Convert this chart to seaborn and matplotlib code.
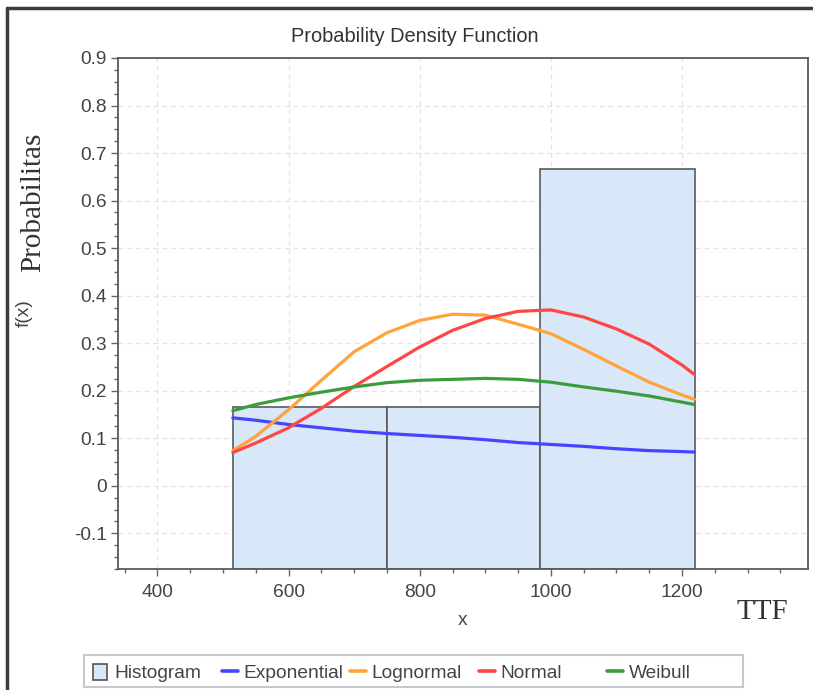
import matplotlib
matplotlib.use("Agg")
import matplotlib.pyplot as plt
import seaborn as sns
import pandas as pd
from matplotlib.ticker import MultipleLocator, FuncFormatter
from matplotlib.patches import Patch, Rectangle
from matplotlib.lines import Line2D

# ---------------- data ----------------
bin_edges = [515, 750, 984, 1219]
hist_values = [0.1667, 0.1667, 0.6667]

x_pts = [515, 550, 600, 650, 700, 750, 800, 850, 900, 950, 1000, 1050, 1100, 1150, 1200, 1219]
exponential = [0.143, 0.138, 0.129, 0.122, 0.115, 0.110, 0.106, 0.102, 0.097, 0.091,
               0.087, 0.083, 0.078, 0.074, 0.072, 0.071]
lognormal = [0.074, 0.104, 0.160, 0.222, 0.282, 0.322, 0.348, 0.361, 0.359, 0.340,
             0.320, 0.287, 0.252, 0.218, 0.191, 0.182]
normal = [0.070, 0.090, 0.122, 0.163, 0.209, 0.251, 0.292, 0.327, 0.352, 0.367,
          0.370, 0.355, 0.330, 0.298, 0.254, 0.234]
weibull = [0.158, 0.171, 0.185, 0.197, 0.208, 0.217, 0.222, 0.224, 0.226, 0.224,
           0.218, 0.208, 0.199, 0.189, 0.176, 0.171]

series_names = ["Exponential", "Lognormal", "Normal", "Weibull"]
x_ticks = [400, 600, 800, 1000, 1200]
y_ticks = [-0.1, 0, 0.1, 0.2, 0.3, 0.4, 0.5, 0.6, 0.7, 0.8, 0.9]

# ---------------- style ----------------
sns.set_theme(style="white")
plt.rcParams["font.family"] = ["Liberation Sans", "DejaVu Sans"]

colors = {"Exponential": "#4545ff", "Lognormal": "#ffa33a",
          "Normal": "#ff4545", "Weibull": "#3c9c3c"}
bar_face = "#d8e8f9"
txt_col = "#444444"
YMIN, YMAX = -0.175, 0.9
XMIN, XMAX = 340, 1392
FS = 13.8

W, H = 813, 690
fig = plt.figure(figsize=(W / 100, H / 100), dpi=100, facecolor="white")
ax = fig.add_axes([118 / W, 1 - 569 / H, (808 - 118) / W, (569 - 58) / H])
ax.set_facecolor("white")

# grid
ax.grid(True, which="major", color="#e4e4e4", linestyle=(0, (4, 3)), linewidth=0.9)
ax.set_axisbelow(True)

# histogram bars (extend from bottom of plot area)
lefts = bin_edges[:-1]
widths = [bin_edges[i + 1] - bin_edges[i] for i in range(len(hist_values))]
ax.bar(lefts, [v - YMIN for v in hist_values], width=widths, bottom=YMIN, align="edge",
       color=bar_face, edgecolor="#5a5a5a", linewidth=1.2, zorder=2)

# fitted curves
df = pd.DataFrame({
    "x": x_pts * 4,
    "f": exponential + lognormal + normal + weibull,
    "dist": sum([[n] * len(x_pts) for n in series_names], []),
})
sns.lineplot(data=df, x="x", y="f", hue="dist", palette=colors, estimator=None,
             sort=False, linewidth=2.3, legend=False, ax=ax, zorder=3)

ax.set_xlim(XMIN, XMAX)
ax.set_ylim(YMIN, YMAX)
ax.set_xticks(x_ticks)
ax.set_yticks(y_ticks)
ax.xaxis.set_minor_locator(MultipleLocator(50))
ax.yaxis.set_minor_locator(MultipleLocator(0.025))
ax.yaxis.set_major_formatter(FuncFormatter(lambda v, p: "0" if abs(v) < 1e-9 else f"{v:.1f}"))
ax.tick_params(axis="both", which="major", direction="out", length=5, width=1,
               color="#666666", labelsize=FS, labelcolor=txt_col, pad=3,
               bottom=True, left=True)
ax.tick_params(axis="both", which="minor", direction="out", length=3, width=1,
               color="#666666", bottom=True, left=True)
ax.tick_params(axis="x", pad=6)
for s in ax.spines.values():
    s.set_color("#5a5a5a")
    s.set_linewidth(1.3)

ax.set_xlabel("x", fontsize=FS, color=txt_col)
ax.xaxis.set_label_coords(0.5, -0.085)
ax.set_ylabel("f(x)", fontsize=FS, color=txt_col)
ax.yaxis.set_label_coords(-0.123, 0.5)

fig.text(415 / W, 1 - 36 / H, "Probability Density Function", ha="center", va="center",
         fontsize=14.4, color="#333333")
fig.text(33 / W, 1 - 202 / H, "Probabilitas", rotation=90, ha="center", va="center",
         fontsize=21, color="#333333", family=["Liberation Serif", "DejaVu Serif"])
fig.text(762 / W, 1 - 612 / H, "TTF", ha="center", va="center",
         fontsize=21, color="#333333", family=["Liberation Serif", "DejaVu Serif"])

# legend: frame + equal-width cells
fig.add_artist(Rectangle((84 / W, 1 - 687 / H), (743 - 84) / W, (687 - 655) / H,
                         transform=fig.transFigure, facecolor="white",
                         edgecolor="#c8c8c8", linewidth=1.5, zorder=1))
handles = [Patch(facecolor=bar_face, edgecolor="#555555", linewidth=1.2)] + \
          [Line2D([], [], color=colors[n], linewidth=2.6) for n in series_names]
labels = ["Histogram"] + series_names
cell_x = [92.5, 221.5, 350, 479, 607]
for i, (h, lab, cx) in enumerate(zip(handles, labels, cell_x)):
    if i == 0:
        kw = dict(handlelength=0.74, handleheight=0.95, handletextpad=0.4)
    else:
        kw = dict(handlelength=0.84, handleheight=0.7, handletextpad=0.3)
    leg = fig.legend([h], [lab], loc="center left",
                     bbox_to_anchor=(cx / W, 1 - 673 / H), frameon=False,
                     borderaxespad=0, borderpad=0, fontsize=FS, **kw)
    leg.set_zorder(2)
    for t in leg.get_texts():
        t.set_color(txt_col)

# outer frame (top and left)
fig.add_artist(Line2D([7 / W, 7 / W], [0, 1 - 8 / H], transform=fig.transFigure,
                      color="#3c3c3c", linewidth=2.5))
fig.add_artist(Line2D([7 / W, 1], [1 - 8 / H, 1 - 8 / H], transform=fig.transFigure,
                      color="#3c3c3c", linewidth=2.5))

fig.savefig("out.png", dpi=100, facecolor="white")
